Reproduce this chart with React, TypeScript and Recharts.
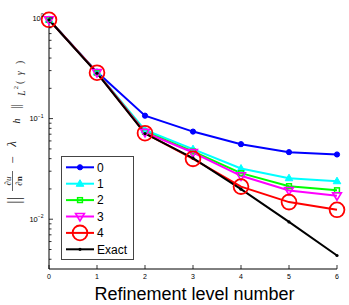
import React from 'react';
import { LineChart, Line, XAxis, YAxis, Legend, Customized } from 'recharts';

const levels = [0, 1, 2, 3, 4, 5, 6];
const err0 = [0.96, 0.29, 0.107, 0.0743, 0.0557, 0.0464, 0.044];
const err1 = [0.96, 0.288, 0.077, 0.0497, 0.0319, 0.0256, 0.0239];
const err2 = [0.96, 0.287, 0.074, 0.0471, 0.0287, 0.0213, 0.0194];
const err3 = [0.96, 0.287, 0.073, 0.046, 0.027, 0.0193, 0.0171];
const err4 = [0.96, 0.286, 0.0716, 0.0398, 0.0211, 0.0148, 0.0124];
const errExact = [0.96, 0.283, 0.071, 0.0404, 0.0199, 0.0094, 0.00436];

const seriesNames = ['0', '1', '2', '3', '4', 'Exact'];
const xTicks = [0, 1, 2, 3, 4, 5, 6];
const yMajorTicks = [0.01, 0.1, 1];
const yMajorExponents = ['\u22122', '\u22121', '0'];
const yMinorTicks = [
  0.004, 0.005, 0.006, 0.007, 0.008, 0.009,
  0.02, 0.03, 0.04, 0.05, 0.06, 0.07, 0.08, 0.09,
  0.2, 0.3, 0.4, 0.5, 0.6, 0.7, 0.8, 0.9,
];
const yDomain = [0.0032, 1];
const xLabel = 'Refinement level number';

const allValues = [err0, err1, err2, err3, err4, errExact];
const keys = ['s0', 's1', 's2', 's3', 's4', 'sx'];
const styles = [
  { color: '#0000ff', marker: 'circle' },
  { color: '#00ffff', marker: 'triUp' },
  { color: '#00ff00', marker: 'square' },
  { color: '#ff00ff', marker: 'triDown' },
  { color: '#ff0000', marker: 'bigCircle' },
  { color: '#000000', marker: 'dot' },
];

const data = levels.map((x, i) => {
  const row: any = { x };
  keys.forEach((k, j) => {
    row[k] = allValues[j][i];
  });
  return row;
});

const yTicks = [...yMinorTicks, ...yMajorTicks].sort((a, b) => a - b);

function Marker({ type, cx, cy, color }: any) {
  switch (type) {
    case 'circle':
      return <circle cx={cx} cy={cy} r={2.6} fill={color} stroke={color} strokeWidth={1} />;
    case 'triUp':
      return (
        <polygon
          points={`${cx},${cy - 4} ${cx - 3.8},${cy + 2.6} ${cx + 3.8},${cy + 2.6}`}
          fill={color}
          stroke={color}
          strokeWidth={1}
        />
      );
    case 'square':
      return <rect x={cx - 2.4} y={cy - 2.4} width={4.8} height={4.8} fill="none" stroke={color} strokeWidth={1.5} />;
    case 'triDown':
      return (
        <polygon
          points={`${cx},${cy + 4.5} ${cx - 4.4},${cy - 3} ${cx + 4.4},${cy - 3}`}
          fill="none"
          stroke={color}
          strokeWidth={1.6}
        />
      );
    case 'bigCircle':
      return <circle cx={cx} cy={cy} r={7.4} fill="none" stroke={color} strokeWidth={1.8} />;
    default:
      return <circle cx={cx} cy={cy} r={1.6} fill={color} />;
  }
}

const makeDot = (type: string, color: string) => (props: any) => {
  const { cx, cy, index } = props;
  if (cx == null || cy == null) return <g key={`e-${index}`} />;
  return <Marker key={`${type}-${index}`} type={type} cx={cx} cy={cy} color={color} />;
};

const LeftTick = (props: any) => {
  const { x, y, payload } = props;
  const v = payload.value;
  const mi = yMajorTicks.indexOf(v);
  const major = mi >= 0;
  return (
    <g>
      <line x1={x} x2={x + (major ? 4 : 2.5)} y1={y} y2={y} stroke="#000" strokeWidth={0.8} />
      {major && (
        <text x={x - 5.5} y={y + 2.6} textAnchor="end" fontSize={7.5} fontFamily="Liberation Sans, Arial" fill="#000">
          10
          <tspan fontSize={5} dy={-3.6}>{yMajorExponents[mi]}</tspan>
        </text>
      )}
    </g>
  );
};

const RightTick = (props: any) => {
  const { x, y, payload } = props;
  const major = yMajorTicks.indexOf(payload.value) >= 0;
  return <line x1={x} x2={x - (major ? 4 : 2.5)} y1={y} y2={y} stroke="#000" strokeWidth={0.8} />;
};

const BottomTick = (props: any) => {
  const { x, y, payload } = props;
  return (
    <g>
      <line x1={x} x2={x} y1={y} y2={y - 4} stroke="#000" strokeWidth={0.8} />
      <text x={x} y={y + 9.5} textAnchor="middle" fontSize={7} fontFamily="Liberation Sans, Arial" fill="#000">
        {payload.value}
      </text>
    </g>
  );
};

const TopTick = (props: any) => {
  const { x, y } = props;
  return <line x1={x} x2={x} y1={y} y2={y + 4} stroke="#000" strokeWidth={0.8} />;
};

const LegendBox = () => (
  <svg width={73} height={104} style={{ display: 'block' }}>
    <rect x={0.5} y={0.5} width={72} height={103} fill="#fff" stroke="#444" strokeWidth={1} />
    {seriesNames.map((name, i) => {
      const cy = 11.3 + i * 16.4;
      const s = styles[i];
      return (
        <g key={name}>
          <line x1={5} x2={33} y1={cy} y2={cy} stroke={s.color} strokeWidth={2} />
          <Marker type={s.marker} cx={19} cy={cy} color={s.color} />
          <text x={36} y={cy + 4.2} fontSize={12} fontFamily="Liberation Sans, Arial" fill="#000">
            {name}
          </text>
        </g>
      );
    })}
  </svg>
);

const serif = 'Liberation Serif, Times New Roman, serif';

const Labels = () => (
  <g>
    <text x={194.5} y={300} textAnchor="middle" fontSize={18} fontFamily="Liberation Sans, Arial" fill="#000">
      {xLabel}
    </text>
    <g transform="translate(16,205) rotate(-90)" fill="#222" fontFamily={serif}>
      <text x={1} y={3.5} fontSize={19}>||</text>
      <text x={24} y={-5} fontSize={9} textAnchor="middle" fontStyle="italic">∂u</text>
      <line x1={14} x2={34} y1={-3.5} y2={-3.5} stroke="#222" strokeWidth={0.7} />
      <text x={24} y={5.5} fontSize={9} textAnchor="middle" fontWeight="bold">∂n</text>
      <text x={45} y={1} fontSize={13} textAnchor="middle">−</text>
      <text x={61} y={0} fontSize={13} textAnchor="middle" fontStyle="italic">λ</text>
      <text x={84} y={4} fontSize={10} textAnchor="middle" fontStyle="italic">h</text>
      <text x={96} y={4} fontSize={13}>||</text>
      <text x={112} y={9} fontSize={9.5} textAnchor="middle" fontStyle="italic">L</text>
      <text x={117.5} y={2} fontSize={6.5} textAnchor="middle">2</text>
      <text x={122.5} y={7} fontSize={9.5} textAnchor="middle">(</text>
      <text x={132} y={7} fontSize={9.5} textAnchor="middle" fontStyle="italic">γ</text>
      <text x={142.5} y={7} fontSize={9.5} textAnchor="middle">)</text>
    </g>
  </g>
);

export default function App() {
  return (
    <div style={{ position: 'absolute', left: 0, top: 0, background: '#fff' }}>
      <LineChart width={349} height={305} data={data} margin={{ top: 18, right: 12, bottom: 0, left: 0 }}>
        <XAxis
          xAxisId="bottom"
          dataKey="x"
          type="number"
          domain={[0, 6]}
          ticks={xTicks}
          interval={0}
          height={36}
          tickSize={0}
          tickMargin={0}
          tickLine={false}
          axisLine={{ stroke: '#000', strokeWidth: 1 }}
          tick={<BottomTick />}
        />
        <XAxis
          xAxisId="top"
          orientation="top"
          dataKey="x"
          type="number"
          domain={[0, 6]}
          ticks={xTicks}
          interval={0}
          height={0}
          tickSize={0}
          tickMargin={0}
          tickLine={false}
          axisLine={{ stroke: '#000', strokeWidth: 1 }}
          tick={<TopTick />}
        />
        <YAxis
          yAxisId="left"
          type="number"
          scale="log"
          domain={yDomain}
          ticks={yTicks}
          interval={0}
          width={49}
          tickSize={0}
          tickMargin={0}
          tickLine={false}
          axisLine={{ stroke: '#000', strokeWidth: 1 }}
          tick={<LeftTick />}
        />
        <YAxis
          yAxisId="right"
          orientation="right"
          type="number"
          scale="log"
          domain={yDomain}
          ticks={yTicks}
          interval={0}
          width={0}
          tickSize={0}
          tickMargin={0}
          tickLine={false}
          axisLine={{ stroke: '#000', strokeWidth: 1 }}
          tick={<RightTick />}
        />
        {keys.map((k, i) => (
          <Line
            key={k}
            xAxisId="bottom"
            yAxisId="left"
            dataKey={k}
            name={seriesNames[i]}
            stroke={styles[i].color}
            strokeWidth={2}
            dot={makeDot(styles[i].marker, styles[i].color)}
            activeDot={false}
            isAnimationActive={false}
          />
        ))}
        <Legend
          layout="vertical"
          align="center"
          verticalAlign="middle"
          content={<LegendBox />}
          wrapperStyle={{ position: 'absolute', left: 61, top: 156, width: 73, height: 104, margin: 0 }}
        />
        <Customized component={<Labels />} />
      </LineChart>
    </div>
  );
}
